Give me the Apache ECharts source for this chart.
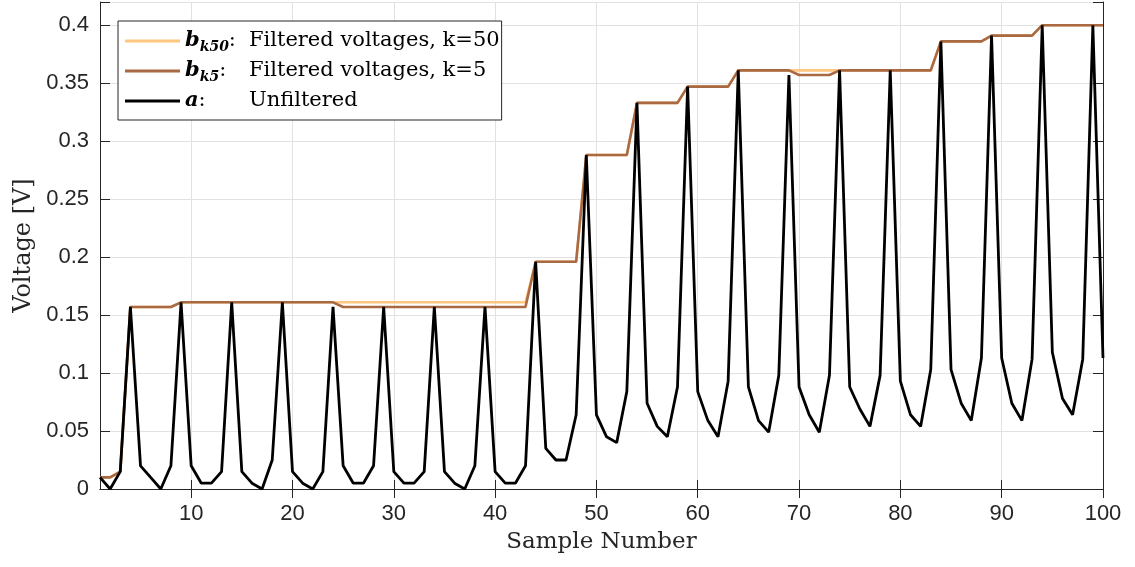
<!DOCTYPE html>
<html>
<head>
<meta charset="utf-8">
<script src="https://cdn.jsdelivr.net/npm/echarts@6/dist/echarts.min.js"></script>
<style>
  html, body { margin: 0; padding: 0; background: #fff; }
  #chart { width: 1135px; height: 567px; }
</style>
</head>
<body>
<div id="chart"></div>
<script>
// ---------------- DATA ----------------
const sampleNumbers = Array.from({ length: 100 }, (_, i) => String(i + 1));

// a: unfiltered voltages
const unfiltered = [
  0.010, 0.000, 0.015, 0.157, 0.020, 0.010, 0.000, 0.020, 0.161, 0.020,
  0.005, 0.005, 0.015, 0.161, 0.015, 0.005, 0.000, 0.025, 0.161, 0.015,
  0.005, 0.000, 0.015, 0.157, 0.020, 0.005, 0.005, 0.020, 0.157, 0.015,
  0.005, 0.005, 0.015, 0.157, 0.015, 0.005, 0.000, 0.020, 0.157, 0.015,
  0.005, 0.005, 0.020, 0.196, 0.035, 0.025, 0.025, 0.064, 0.288, 0.064,
  0.045, 0.040, 0.084, 0.333, 0.074, 0.054, 0.045, 0.088, 0.347, 0.084,
  0.059, 0.045, 0.093, 0.361, 0.088, 0.059, 0.049, 0.098, 0.357, 0.088,
  0.064, 0.049, 0.098, 0.361, 0.088, 0.069, 0.054, 0.098, 0.361, 0.093,
  0.064, 0.054, 0.103, 0.386, 0.103, 0.074, 0.059, 0.113, 0.391, 0.113,
  0.074, 0.059, 0.112, 0.400, 0.118, 0.078, 0.064, 0.112, 0.400, 0.113
];

// b_k5: filtered voltages, k=5
const filteredK5 = [
  0.010, 0.010, 0.015, 0.157, 0.157, 0.157, 0.157, 0.157, 0.161, 0.161,
  0.161, 0.161, 0.161, 0.161, 0.161, 0.161, 0.161, 0.161, 0.161, 0.161,
  0.161, 0.161, 0.161, 0.161, 0.157, 0.157, 0.157, 0.157, 0.157, 0.157,
  0.157, 0.157, 0.157, 0.157, 0.157, 0.157, 0.157, 0.157, 0.157, 0.157,
  0.157, 0.157, 0.157, 0.196, 0.196, 0.196, 0.196, 0.196, 0.288, 0.288,
  0.288, 0.288, 0.288, 0.333, 0.333, 0.333, 0.333, 0.333, 0.347, 0.347,
  0.347, 0.347, 0.347, 0.361, 0.361, 0.361, 0.361, 0.361, 0.361, 0.357,
  0.357, 0.357, 0.357, 0.361, 0.361, 0.361, 0.361, 0.361, 0.361, 0.361,
  0.361, 0.361, 0.361, 0.386, 0.386, 0.386, 0.386, 0.386, 0.391, 0.391,
  0.391, 0.391, 0.391, 0.400, 0.400, 0.400, 0.400, 0.400, 0.400, 0.400
];

// b_k50: filtered voltages, k=50
const filteredK50 = [
  0.010, 0.010, 0.015, 0.157, 0.157, 0.157, 0.157, 0.157, 0.161, 0.161,
  0.161, 0.161, 0.161, 0.161, 0.161, 0.161, 0.161, 0.161, 0.161, 0.161,
  0.161, 0.161, 0.161, 0.161, 0.161, 0.161, 0.161, 0.161, 0.161, 0.161,
  0.161, 0.161, 0.161, 0.161, 0.161, 0.161, 0.161, 0.161, 0.161, 0.161,
  0.161, 0.161, 0.161, 0.196, 0.196, 0.196, 0.196, 0.196, 0.288, 0.288,
  0.288, 0.288, 0.288, 0.333, 0.333, 0.333, 0.333, 0.333, 0.347, 0.347,
  0.347, 0.347, 0.347, 0.361, 0.361, 0.361, 0.361, 0.361, 0.361, 0.361,
  0.361, 0.361, 0.361, 0.361, 0.361, 0.361, 0.361, 0.361, 0.361, 0.361,
  0.361, 0.361, 0.361, 0.386, 0.386, 0.386, 0.386, 0.386, 0.391, 0.391,
  0.391, 0.391, 0.391, 0.400, 0.400, 0.400, 0.400, 0.400, 0.400, 0.400
];

const xTickEvery = 10;
const yMin = 0, yMax = 0.42, yStep = 0.05;

// legend label pieces
const legendParts = {
  k50: { sym: 'b', sub: 'k50', text: 'Filtered voltages, k=50' },
  k5:  { sym: 'b', sub: 'k5',  text: 'Filtered voltages, k=5' },
  a:   { sym: 'a', sub: '',    text: 'Unfiltered' }
};

// ---------------- STYLE ----------------
const axisColor = '#262626';
const gridColor = '#e2e2e2';
const tickFont = "'Liberation Sans', Arial, Helvetica, sans-serif";
const serifFont = "'DejaVu Serif', 'Liberation Serif', serif";
const legendFontSize = 21, subFontSize = 14;

// measure head widths so the descriptive text lines up
const mctx = document.createElement('canvas').getContext('2d');
function tw(txt, font) { mctx.font = font; return mctx.measureText(txt).width; }
function headWidth(p) {
  return tw(p.sym, `italic bold ${legendFontSize}px ${serifFont}`) +
         (p.sub ? tw(p.sub, `italic bold ${subFontSize}px ${serifFont}`) : 0) +
         tw(':', `${legendFontSize}px ${serifFont}`);
}
const heads = Object.fromEntries(Object.entries(legendParts).map(([k, p]) => [k, headWidth(p)]));
const headTarget = Math.max(...Object.values(heads)) + 13;

const tickIdx = (idx) => (idx + 1) % xTickEvery === 0;

const chart = echarts.init(document.getElementById('chart'), null, { renderer: 'canvas' });

const baseRich = {
  s: { fontFamily: serifFont, fontSize: legendFontSize, fontStyle: 'italic', fontWeight: 'bold', color: '#000', lineHeight: 26 },
  sub: { fontFamily: serifFont, fontSize: subFontSize, fontStyle: 'italic', fontWeight: 'bold', color: '#000', verticalAlign: 'bottom', lineHeight: 14, padding: [0, 0, 0, 0] },
  c: { fontFamily: serifFont, fontSize: legendFontSize, color: '#000', lineHeight: 26 },
  sp: { fontSize: legendFontSize, lineHeight: 26 },
  t: { fontFamily: serifFont, fontSize: legendFontSize, color: '#000', lineHeight: 26 }
};

const option = {
  backgroundColor: '#fff',
  animation: false,
  grid: { left: 100, right: 32, top: 2, bottom: 78, containLabel: false },
  legend: {
    show: true,
    orient: 'vertical',
    left: 118,
    top: 21,
    padding: [7, 2, 6, 7],
    itemGap: 4,
    itemWidth: 55,
    itemHeight: 3,
    icon: 'rect',
    backgroundColor: '#fff',
    borderColor: axisColor,
    borderWidth: 1,
    borderRadius: 0,
    data: ['k50', 'k5', 'a'].map((n) => ({
      name: n,
      textStyle: {
        rich: Object.assign({}, baseRich, {
          sp: { fontSize: legendFontSize, lineHeight: 26, width: Math.max(1, headTarget - heads[n]) }
        })
      }
    })),
    formatter: (name) => {
      const p = legendParts[name];
      return '{s|' + p.sym + '}' + (p.sub ? '{sub|' + p.sub + '}' : '') +
             '{c|:}{sp| }{t|' + p.text + '}';
    },
    textStyle: {
      fontFamily: serifFont,
      fontSize: legendFontSize,
      color: '#000',
      lineHeight: 26,
      rich: baseRich
    }
  },
  xAxis: [
    {
      type: 'category',
      data: sampleNumbers,
      boundaryGap: false,
      name: 'Sample Number',
      nameLocation: 'middle',
      nameGap: 42,
      nameTextStyle: { fontFamily: serifFont, fontSize: 23, color: axisColor },
      axisLine: { show: true, lineStyle: { color: axisColor, width: 1 } },
      axisTick: { show: true, inside: true, length: 9, interval: tickIdx, lineStyle: { color: axisColor } },
      axisLabel: { show: true, interval: tickIdx, margin: 14, fontFamily: tickFont, fontSize: 22, color: axisColor },
      splitLine: { show: true, interval: tickIdx, lineStyle: { color: gridColor, width: 1 } }
    },
    {
      type: 'category',
      data: sampleNumbers,
      boundaryGap: false,
      position: 'top',
      axisLine: { show: true, lineStyle: { color: axisColor, width: 1 } },
      axisTick: { show: true, inside: true, length: 9, interval: tickIdx, lineStyle: { color: axisColor } },
      axisLabel: { show: false },
      splitLine: { show: false }
    }
  ],
  yAxis: [
    {
      type: 'value',
      min: yMin,
      max: yMax,
      interval: yStep,
      name: 'Voltage [V]',
      nameLocation: 'middle',
      nameGap: 62,
      nameTextStyle: { fontFamily: serifFont, fontSize: 24, color: axisColor },
      axisLine: { show: true, lineStyle: { color: axisColor, width: 1 } },
      axisTick: { show: true, inside: true, length: 10, lineStyle: { color: axisColor } },
      axisLabel: {
        show: true, margin: 11, fontFamily: tickFont, fontSize: 22, color: axisColor,
        formatter: (v) => (v > 0.401 ? '' : String(+v.toFixed(2)))
      },
      splitLine: { show: true, lineStyle: { color: gridColor, width: 1 } }
    },
    {
      type: 'value',
      min: yMin,
      max: yMax,
      interval: yStep,
      position: 'right',
      axisLine: { show: true, lineStyle: { color: axisColor, width: 1 } },
      axisTick: { show: true, inside: true, length: 10, lineStyle: { color: axisColor } },
      axisLabel: { show: false },
      splitLine: { show: false }
    }
  ],
  series: [
    {
      name: 'k50', type: 'line', data: filteredK50, xAxisIndex: 0, yAxisIndex: 0,
      showSymbol: false, symbol: 'none', clip: true,
      lineStyle: { color: '#FFC77F', width: 2.6 }, itemStyle: { color: '#FFC77F' }
    },
    {
      name: 'k5', type: 'line', data: filteredK5, xAxisIndex: 0, yAxisIndex: 0,
      showSymbol: false, symbol: 'none', clip: true,
      lineStyle: { color: '#A96A43', width: 2.6 }, itemStyle: { color: '#A96A43' }
    },
    {
      name: 'a', type: 'line', data: unfiltered, xAxisIndex: 0, yAxisIndex: 0,
      showSymbol: false, symbol: 'none', clip: true,
      lineStyle: { color: '#000000', width: 2.8 }, itemStyle: { color: '#000000' }
    }
  ]
};

chart.setOption(option);
</script>
</body>
</html>
